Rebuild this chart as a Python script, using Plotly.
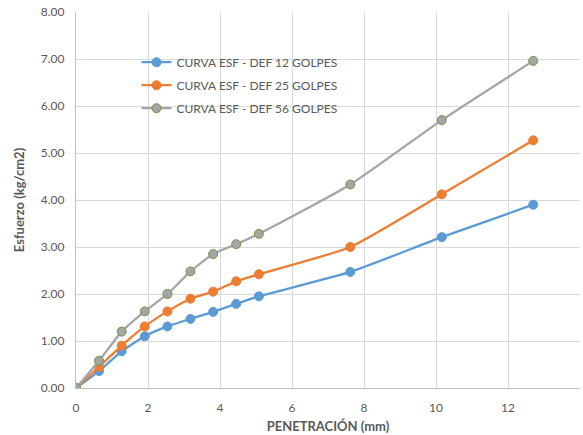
import plotly.graph_objects as go

# Penetración (mm) y esfuerzo (kg/cm2) por número de golpes
penetracion = [0, 0.64, 1.27, 1.91, 2.54, 3.18, 3.81, 4.45, 5.08, 7.62, 10.16, 12.70]
esf_12 = [0, 0.36, 0.78, 1.10, 1.31, 1.47, 1.62, 1.79, 1.95, 2.47, 3.21, 3.90]
esf_25 = [0, 0.45, 0.90, 1.31, 1.63, 1.90, 2.05, 2.27, 2.42, 3.00, 4.12, 5.27]
esf_56 = [0, 0.58, 1.20, 1.63, 2.00, 2.48, 2.85, 3.06, 3.28, 4.33, 5.70, 6.96]

nombres = ["CURVA ESF - DEF 12 GOLPES", "CURVA ESF - DEF 25 GOLPES", "CURVA ESF - DEF 56 GOLPES"]
colores = ["#5B9BD5", "#ED7D31", "#A5A5A5"]
bordes = ["#5B9BD5", "#ED7D31", "#6B9A3E"]

fig = go.Figure()
for i, (nombre, ys, c, b) in enumerate(zip(nombres, [esf_12, esf_25, esf_56], colores, bordes)):
    fig.add_trace(go.Scatter(
        x=penetracion, y=ys, name=nombre, mode="lines+markers",
        legendgroup=f"g{i}",
        line=dict(color=c, width=2.3, shape="spline", smoothing=0.5),
        marker=dict(size=9, color=c, line=dict(color=b, width=1)),
    ))

font = "Lato, Open Sans, sans-serif"
fig.update_layout(
    width=583, height=435,
    margin=dict(l=76, r=3, t=12, b=47),
    paper_bgcolor="white", plot_bgcolor="white",
    font=dict(family=font, size=12, color="#595959"),
    legend=dict(x=0.12, y=0.905, xanchor="left", yanchor="top",
                bgcolor="rgba(0,0,0,0)", font=dict(size=12, color="#595959"),
                tracegroupgap=4),
    xaxis=dict(
        range=[0, 14], dtick=2, tick0=0, automargin=False,
        showgrid=True, gridcolor="#D9D9D9", gridwidth=1.3,
        showline=True, linecolor="#BFBFBF", linewidth=1.3,
        zeroline=False, ticks="", ticklabelstandoff=8,
        title=dict(text="<b>PENETRACIÓN (mm)</b>", font=dict(size=13, color="#595959"), standoff=8),
    ),
    yaxis=dict(
        range=[0, 8], dtick=1, tick0=0, tickformat=".2f", automargin=False,
        showgrid=True, gridcolor="#D9D9D9", gridwidth=1.3,
        showline=True, linecolor="#BFBFBF", linewidth=1.3,
        zeroline=False, ticks="", ticklabelstandoff=8,
        title=dict(text="<b>Esfuerzo (kg/cm2)</b>", font=dict(size=13, color="#595959"), standoff=13),
    ),
)

fig.write_html("out.html")
